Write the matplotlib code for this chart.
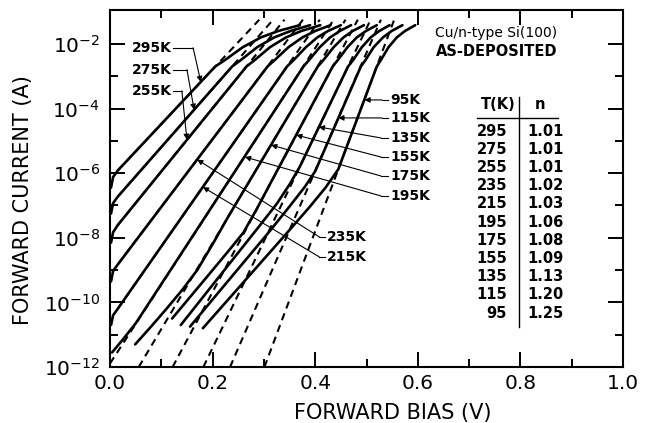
import matplotlib
matplotlib.use("Agg")
import matplotlib.pyplot as plt
import numpy as np
from matplotlib.ticker import NullFormatter

plt.rcParams["font.family"] = ["DejaVu Sans"]

temps = [295, 275, 255, 235, 215, 195, 175, 155, 135, 115, 95]
n_values = ["1.01", "1.01", "1.01", "1.02", "1.03", "1.06", "1.08", "1.09", "1.13", "1.20", "1.25"]

v295 = [0.002, 0.006, 0.015, 0.205, 0.224, 0.259, 0.294, 0.328, 0.370]
l295 = [-6.45, -6.12, -5.92, -2.70, -2.50, -2.10, -1.80, -1.60, -1.42]
v275 = [0.002, 0.006, 0.015, 0.238, 0.255, 0.287, 0.320, 0.352, 0.390]
l275 = [-7.25, -6.93, -6.73, -2.70, -2.50, -2.10, -1.80, -1.60, -1.42]
v255 = [0.002, 0.006, 0.015, 0.266, 0.282, 0.312, 0.343, 0.373, 0.410]
l255 = [-8.15, -7.83, -7.61, -2.70, -2.50, -2.10, -1.80, -1.60, -1.42]
v235 = [0.002, 0.006, 0.015, 0.307, 0.321, 0.348, 0.375, 0.400, 0.430]
l235 = [-9.35, -9.03, -8.83, -2.70, -2.50, -2.10, -1.80, -1.60, -1.42]
v215 = [0.002, 0.006, 0.015, 0.345, 0.358, 0.382, 0.404, 0.425, 0.450]
l215 = [-10.70, -10.40, -10.20, -2.70, -2.50, -2.10, -1.80, -1.60, -1.42]
v195 = [0.004, 0.025, 0.050, 0.377, 0.388, 0.409, 0.429, 0.448, 0.470]
l195 = [-11.55, -11.15, -10.65, -2.70, -2.50, -2.10, -1.80, -1.60, -1.42]
v175 = [0.049, 0.080, 0.110, 0.140, 0.170, 0.200, 0.230, 0.405, 0.416, 0.436, 0.455, 0.473, 0.495]
l175 = [-11.30, -10.75, -10.20, -9.63, -9.00, -8.20, -7.36, -2.70, -2.50, -2.10, -1.80, -1.60, -1.42]
v155 = [0.121, 0.160, 0.200, 0.235, 0.260, 0.285, 0.434, 0.444, 0.463, 0.481, 0.499, 0.520]
l155 = [-10.50, -9.76, -9.00, -8.33, -7.84, -7.14, -2.70, -2.50, -2.10, -1.80, -1.60, -1.42]
v135 = [0.138, 0.190, 0.240, 0.290, 0.325, 0.350, 0.370, 0.464, 0.474, 0.491, 0.508, 0.525, 0.545]
l135 = [-10.70, -9.66, -8.66, -7.66, -6.95, -6.35, -5.80, -2.70, -2.50, -2.10, -1.80, -1.60, -1.42]
v115 = [0.156, 0.210, 0.260, 0.310, 0.350, 0.380, 0.400, 0.489, 0.498, 0.514, 0.532, 0.549, 0.570]
l115 = [-10.75, -9.72, -8.77, -7.82, -7.03, -6.42, -5.94, -2.70, -2.50, -2.10, -1.80, -1.60, -1.42]
v95 = [0.181, 0.240, 0.300, 0.350, 0.390, 0.420, 0.445, 0.520, 0.528, 0.543, 0.559, 0.575, 0.595]
l95 = [-10.80, -9.74, -8.66, -7.76, -7.03, -6.45, -5.88, -2.70, -2.50, -2.10, -1.80, -1.60, -1.42]

# ideal-diode fit lines (dashed): end points, same order as temps
fit_v_lo = [0.015, 0.015, 0.015, 0.015, 0.015, 0.000, 0.056, 0.122, 0.182, 0.234, 0.301]
fit_l_lo = [-5.92, -6.73, -7.61, -8.83, -10.20, -11.89, -12.0, -12.0, -12.0, -12.0, -12.0]
fit_v_hi = [0.291, 0.318, 0.340, 0.376, 0.409, 0.436, 0.459, 0.483, 0.508, 0.528, 0.554]
fit_l_hi = [-1.25, -1.25, -1.25, -1.25, -1.25, -1.25, -1.25, -1.25, -1.25, -1.25, -1.25]

# curve labels: text position, leader corner and arrow tip (V, log10 I)
lab_text = ["295K", "275K", "255K", "95K", "115K", "135K", "155K", "175K", "195K", "235K", "215K"]
lab_x = [0.043, 0.043, 0.043, 0.546, 0.546, 0.546, 0.546, 0.546, 0.546, 0.423, 0.423]
lab_y = [-2.12, -2.80, -3.455, -3.734, -4.291, -4.91, -5.50, -6.087, -6.706, -7.975, -8.594]
edge_x = [0.123, 0.123, 0.123, 0.542, 0.542, 0.542, 0.542, 0.542, 0.542, 0.419, 0.419]
corner_x = [0.162, 0.150, 0.140, 0.530, 0.530, 0.528, 0.528, 0.528, 0.528, 0.408, 0.408]
tip_x = [0.177, 0.164, 0.150, 0.496, 0.445, 0.407, 0.363, 0.314, 0.263, 0.170, 0.181]
tip_y = [-3.18, -4.04, -4.97, -3.734, -4.291, -4.57, -4.82, -5.13, -5.50, -5.58, -6.43]

curves = [(v295, l295), (v275, l275), (v255, l255), (v235, l235), (v215, l215), (v195, l195),
          (v175, l175), (v155, l155), (v135, l135), (v115, l115), (v95, l95)]

fig = plt.figure(figsize=(6.46, 4.23), dpi=100)
ax = fig.add_axes([0.1703, 0.1324, 0.7941, 0.8440])
ax.set_yscale("log")

for i in range(len(temps)):
    ax.plot([fit_v_lo[i], fit_v_hi[i]], np.power(10.0, [fit_l_lo[i], fit_l_hi[i]]),
            color="black", lw=1.5, dashes=(3.5, 2.5), zorder=2)

for v, l in curves:
    ax.plot(v, np.power(10.0, l), color="black", lw=1.9, solid_capstyle="round",
            solid_joinstyle="round", zorder=3)

for i in range(len(lab_text)):
    y = 10 ** lab_y[i]
    ax.text(lab_x[i], y, lab_text[i], fontsize=10, fontweight="bold", ha="left", va="center")
    ax.plot([edge_x[i], corner_x[i]], [y, y], color="black", lw=0.8)
    ax.annotate("", xy=(tip_x[i], 10 ** tip_y[i]), xytext=(corner_x[i], y),
                arrowprops=dict(arrowstyle="-|>", color="black", lw=0.8, mutation_scale=8,
                                shrinkA=0, shrinkB=0))

# sample info and fit table
ax.text(0.634, 0.936, "Cu/n-type Si(100)", transform=ax.transAxes, fontsize=10, ha="left", va="center")
ax.text(0.636, 0.8825, "AS-DEPOSITED", transform=ax.transAxes, fontsize=10.5, fontweight="bold",
        ha="left", va="center")
ax.text(0.791, 0.734, "T(K)", transform=ax.transAxes, fontsize=10.5, fontweight="bold", ha="right", va="center")
ax.text(0.838, 0.734, "n", transform=ax.transAxes, fontsize=10.5, fontweight="bold", ha="center", va="center")
ax.plot([0.715, 0.873], [0.697, 0.697], transform=ax.transAxes, color="black", lw=1.0)
ax.plot([0.797, 0.797], [0.756, 0.112], transform=ax.transAxes, color="black", lw=1.0)
for i in range(len(temps)):
    yy = 0.661 - 0.051 * i
    ax.text(0.774, yy, str(temps[i]), transform=ax.transAxes, fontsize=10.5, fontweight="bold",
            ha="right", va="center")
    ax.text(0.813, yy, n_values[i], transform=ax.transAxes, fontsize=10.5, fontweight="bold",
            ha="left", va="center")

ax.set_xlim(0, 1)
ax.set_ylim(1e-12, 10 ** -0.95)
ax.set_xticks([0.0, 0.2, 0.4, 0.6, 0.8, 1.0])
ax.set_xticklabels(["0.0", "0.2", "0.4", "0.6", "0.8", "1.0"])
ax.set_xticks([0.1, 0.3, 0.5, 0.7, 0.9], minor=True)
ax.set_yticks([1e-12, 1e-10, 1e-8, 1e-6, 1e-4, 1e-2])
ax.set_yticklabels([r"$10^{-12}$", r"$10^{-10}$", r"$10^{-8}$", r"$10^{-6}$", r"$10^{-4}$", r"$10^{-2}$"])
ax.set_yticks([1e-11, 1e-9, 1e-7, 1e-5, 1e-3], minor=True)
ax.yaxis.set_minor_formatter(NullFormatter())
ax.tick_params(which="both", direction="in", top=True, right=True, width=1.4)
ax.tick_params(which="major", length=11, labelsize=14.5)
ax.tick_params(which="minor", length=6)
ax.tick_params(axis="x", pad=5)
ax.tick_params(axis="y", pad=7)
for s in ax.spines.values():
    s.set_linewidth(1.5)

ax.set_xlabel("FORWARD BIAS (V)", fontsize=15)
ax.xaxis.set_label_coords(0.552, -0.1)
ax.set_ylabel("FORWARD CURRENT (A)", fontsize=15)
ax.yaxis.set_label_coords(-0.15, 0.468)

fig.savefig("out.png", dpi=100)
